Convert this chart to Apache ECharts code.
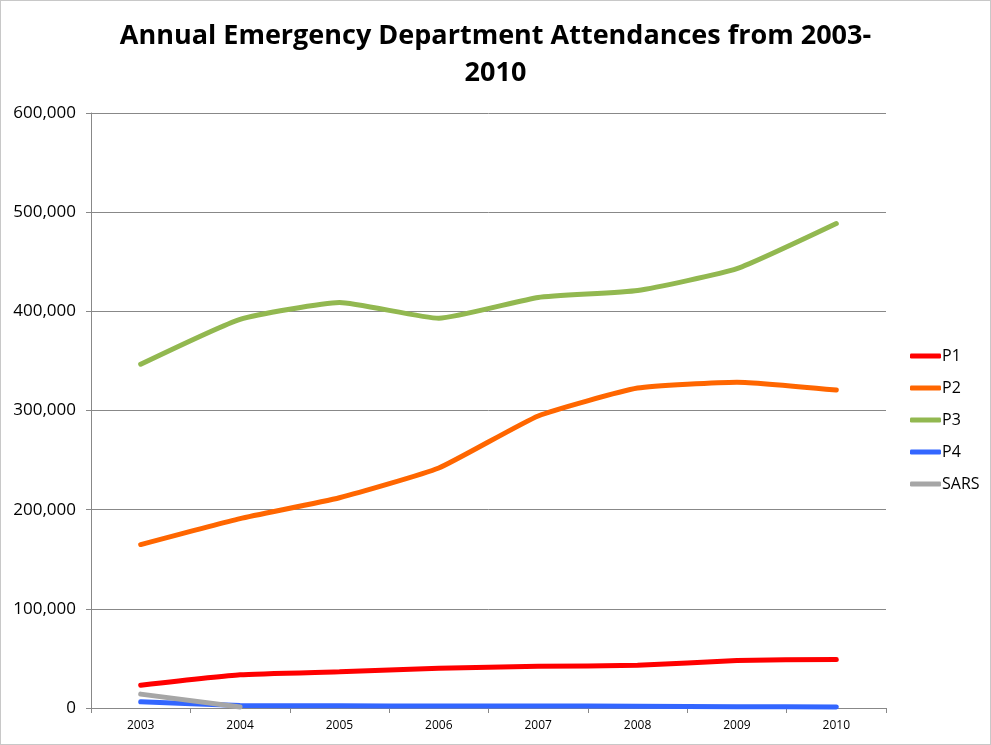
<!DOCTYPE html>
<html>
<head>
<meta charset="utf-8">
<title>Annual Emergency Department Attendances</title>
<style>
  html, body { margin: 0; padding: 0; background: #fff; }
  #box { width: 989px; height: 743px; border: 1px solid #c8c8c8; }
</style>
</head>
<body>
<div id="box"></div>
<script src="https://cdn.jsdelivr.net/npm/echarts@6/dist/echarts.min.js"></script>
<script>
  // years on the x axis
  var years = ['2003', '2004', '2005', '2006', '2007', '2008', '2009', '2010'];
  // attendances per triage category
  var p1 = [23000, 33500, 36500, 40000, 42000, 43000, 48000, 49000];
  var p2 = [164800, 191000, 212000, 242000, 294500, 322600, 328600, 320600];
  var p3 = [346700, 392000, 409000, 393000, 414000, 421000, 443000, 488500];
  var p4 = [6300, 2500, 2200, 2000, 2000, 1800, 1300, 1000];
  var sars = [14000, 1000];
  var yTicks = [0, 100000, 200000, 300000, 400000, 500000, 600000];

  var font = 'Open Sans';
  var chart = echarts.init(document.getElementById('box'));

  function line(name, data, color) {
    return {
      name: name,
      type: 'line',
      data: data,
      smooth: 0.15,
      symbol: 'none',
      lineStyle: { width: 5, color: color, cap: 'round' },
      itemStyle: { color: color }
    };
  }

  chart.setOption({
    animation: false,
    title: {
      text: 'Annual Emergency Department Attendances from 2003-\n2010',
      left: 'center',
      top: 12,
      textStyle: { fontFamily: font, fontWeight: 'bold', fontSize: 27, lineHeight: 37, color: '#000' }
    },
    legend: {
      orient: 'vertical',
      left: 904,
      top: 342,
      itemWidth: 31,
      itemHeight: 5,
      itemGap: 16,
      icon: 'roundRect',
      textStyle: { fontFamily: font, fontSize: 16, color: '#000', padding: [0, 0, 0, -4] },
      data: ['P1', 'P2', 'P3', 'P4', 'SARS']
    },
    grid: { left: 90, right: 104, top: 112, bottom: 36 },
    xAxis: {
      type: 'category',
      data: years,
      boundaryGap: true,
      axisLine: { lineStyle: { color: '#888', width: 1 } },
      axisTick: { show: true, length: 5, lineStyle: { color: '#888' } },
      axisLabel: { fontFamily: font, fontSize: 12, color: '#000', margin: 12 }
    },
    yAxis: {
      type: 'value',
      min: yTicks[0],
      max: yTicks[yTicks.length - 1],
      interval: 100000,
      axisLine: { show: true, lineStyle: { color: '#888', width: 1 } },
      axisTick: { show: true, length: 5, inside: false, lineStyle: { color: '#888' } },
      splitLine: { lineStyle: { color: '#888', width: 1 } },
      axisLabel: {
        fontFamily: font, fontSize: 17, color: '#000', margin: 15,
        formatter: function (v) { return v.toLocaleString('en-US'); }
      }
    },
    series: [
      line('P1', p1, '#ff0000'),
      line('P2', p2, '#ff6600'),
      line('P3', p3, '#92b850'),
      line('P4', p4, '#3366ff'),
      line('SARS', sars, '#a6a6a6')
    ]
  });
</script>
</body>
</html>
